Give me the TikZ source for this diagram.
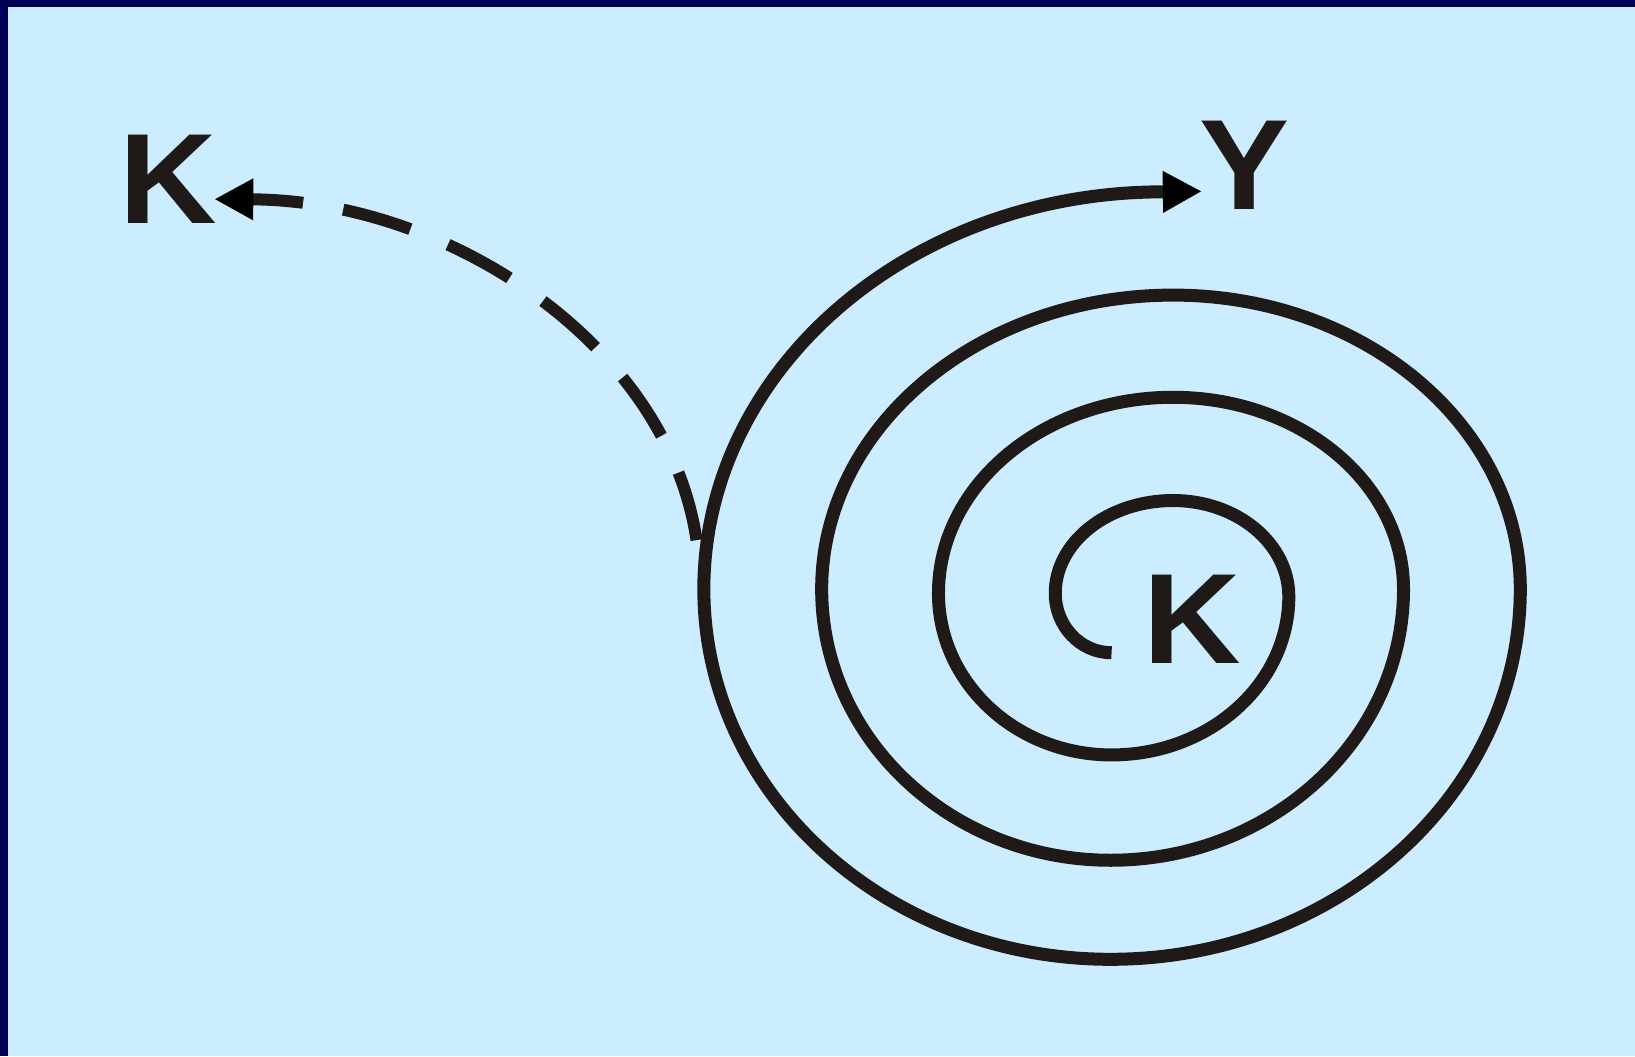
\documentclass[tikz,border=0pt]{standalone}
\usepackage{fontspec}
\setmainfont{Liberation Sans}
\usetikzlibrary{arrows.meta}
\definecolor{bg}{RGB}{204,236,255}
\definecolor{navy}{RGB}{0,0,85}
\definecolor{ink}{RGB}{31,26,23}
\begin{document}
\begin{tikzpicture}[x=1.0427pt,y=1.0427pt,
  letter/.style={font=\fontsize{128.5}{128.5}\selectfont\bfseries, text=ink, inner sep=0pt, anchor=base, xscale=1.05, transform shape},
  spiral/.style={draw=ink, line width=13pt, line join=round},
  dashline/.style={draw=ink, line width=12pt, dash pattern=on 70pt off 40.7pt},
  bigtip/.tip={Triangle[length=39pt,width=39pt,color=black]}]
% background and frame
\fill[bg] (0,0) rectangle (1568,-1013);
\fill[navy] (0,0) rectangle (1568,-6.5);
\fill[navy] (0,0) rectangle (7.7,-1013);
\useasboundingbox (0,0) rectangle (1568,-1013);
% letters
\node[letter] (kout) at (161.5,-214) {K};
\node[letter] (y) at (1193.5,-200.5) {Y};
\node[letter] (kin) at (1143,-636) {K};
% tips / ends
\coordinate (ytip) at (1152.6,-183.5);
\coordinate (ktip) at (205.5,-191);
\coordinate (dstart) at (668,-518);
% spiral
\draw[spiral, {bigtip}-] (ytip) -- (1115,-184)
  arc[start angle=90, end angle=180, x radius=440, y radius=381]
  arc[start angle=180, end angle=270, x radius=390, y radius=355]
  arc[start angle=270, end angle=360, x radius=393, y radius=355]
  arc[start angle=0, end angle=90, x radius=333, y radius=282]
  arc[start angle=90, end angle=180, x radius=337, y radius=282]
  arc[start angle=180, end angle=270, x radius=277, y radius=260]
  arc[start angle=270, end angle=360, x radius=281, y radius=260]
  arc[start angle=0, end angle=90, x radius=221, y radius=184]
  arc[start angle=90, end angle=180, x radius=225, y radius=188]
  arc[start angle=180, end angle=270, x radius=166, y radius=155]
  arc[start angle=270, end angle=360, x radius=170, y radius=152]
  arc[start angle=0, end angle=90, x radius=111, y radius=92]
  arc[start angle=90, end angle=180, x radius=113, y radius=89]
  arc[start angle=180, end angle=270, x radius=54, y radius=57];
% dashed return arrow
\draw[dashline, -{bigtip}] (dstart) .. controls (640,-330) and (430,-192) .. (ktip);
\end{tikzpicture}
\end{document}
